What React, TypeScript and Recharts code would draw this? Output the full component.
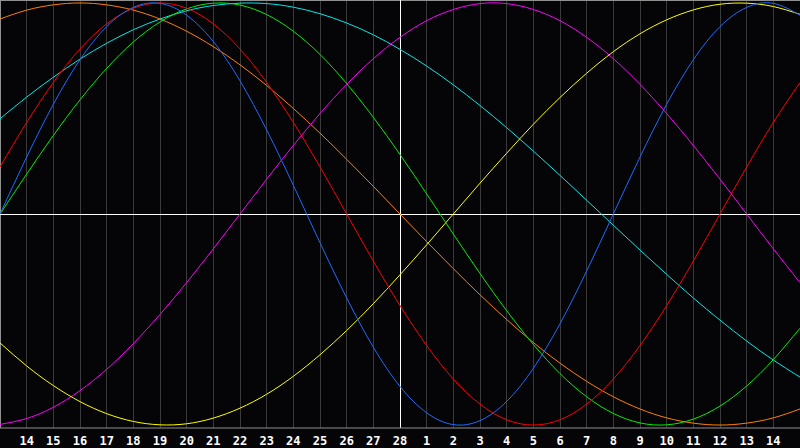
import { LineChart, Line, XAxis, YAxis, CartesianGrid, ReferenceLine } from 'recharts';

// day labels, starting at 13 Feb and ending at 15 Mar
const days = ['13', '14', '15', '16', '17', '18', '19', '20', '21', '22', '23', '24', '25', '26', '27', '28',
  '1', '2', '3', '4', '5', '6', '7', '8', '9', '10', '11', '12', '13', '14', '15'];

const blue = [0, 0.27, 0.52, 0.731, 0.888, 0.979, 0.998, 0.942, 0.817, 0.631, 0.398, 0.136, -0.136, -0.398, -0.631, -0.817,
  -0.942, -0.998, -0.979, -0.888, -0.731, -0.52, -0.27, 0, 0.27, 0.52, 0.731, 0.888, 0.979, 0.998, 0.942];
const red = [0.223, 0.434, 0.623, 0.782, 0.901, 0.975, 1, 0.975, 0.901, 0.782, 0.623, 0.434, 0.223, 0, -0.223, -0.434,
  -0.623, -0.782, -0.901, -0.975, -1, -0.975, -0.901, -0.782, -0.623, -0.434, -0.223, 0, 0.223, 0.434, 0.623];
const green = [0, 0.189, 0.372, 0.541, 0.69, 0.815, 0.91, 0.972, 0.999, 0.99, 0.945, 0.866, 0.756, 0.618, 0.458, 0.282,
  0.095, -0.095, -0.282, -0.458, -0.618, -0.756, -0.866, -0.945, -0.99, -0.999, -0.972, -0.91, -0.815, -0.69, -0.541];
const orange = [0.924, 0.966, 0.991, 1, 0.991, 0.966, 0.924, 0.866, 0.793, 0.707, 0.609, 0.5, 0.383, 0.259, 0.131, 0,
  -0.131, -0.259, -0.383, -0.5, -0.609, -0.707, -0.793, -0.866, -0.924, -0.966, -0.991, -1, -0.991, -0.966, -0.924];
const magenta = [-0.997, -0.969, -0.916, -0.837, -0.736, -0.614, -0.476, -0.325, -0.165, 0, 0.165, 0.325, 0.476, 0.614, 0.736, 0.837,
  0.916, 0.969, 0.997, 0.997, 0.969, 0.916, 0.837, 0.736, 0.614, 0.476, 0.325, 0.165, 0, -0.165, -0.325];
const yellow = [-0.611, -0.72, -0.813, -0.889, -0.946, -0.983, -0.999, -0.994, -0.967, -0.92, -0.854, -0.769, -0.667, -0.552, -0.425, -0.288,
  -0.146, 0, 0.146, 0.288, 0.425, 0.552, 0.667, 0.769, 0.854, 0.92, 0.967, 0.994, 0.999, 0.983, 0.946];
const cyan = [0.451, 0.554, 0.648, 0.734, 0.809, 0.873, 0.924, 0.963, 0.988, 0.999, 0.997, 0.98, 0.949, 0.905, 0.849, 0.78,
  0.701, 0.612, 0.514, 0.409, 0.298, 0.183, 0.065, -0.053, -0.171, -0.286, -0.398, -0.503, -0.602, -0.692, -0.773];

const tickIdx = days.map((_, i) => i).filter((i) => i > 0 && i < days.length - 1);

const data = days.map((d, i) => ({
  t: i,
  day: d,
  blue: blue[i],
  red: red[i],
  green: green[i],
  orange: orange[i],
  magenta: magenta[i],
  yellow: yellow[i],
  cyan: cyan[i],
}));

const series = [
  { key: 'cyan', color: '#00e8e8' },
  { key: 'orange', color: '#ff8000' },
  { key: 'magenta', color: '#ff00ff' },
  { key: 'yellow', color: '#ffff00' },
  { key: 'green', color: '#00f000' },
  { key: 'red', color: '#ff0000' },
  { key: 'blue', color: '#1a6cff' },
];

const LIM = 1.014;

export default function App() {
  return (
    <div style={{ position: 'absolute', left: 0, top: 0, width: 800, height: 448, background: '#050508' }}>
      <LineChart width={800} height={448} data={data} margin={{ top: 0, right: 0, bottom: 0, left: 0 }}>
        <CartesianGrid horizontal={false} stroke="#3a3a3a" shapeRendering="crispEdges" />
        <XAxis
          dataKey="t"
          type="number"
          domain={[0, 30]}
          ticks={tickIdx}
          tickFormatter={(v: number) => days[v]}
          height={20}
          interval={0}
          tickLine={false}
          axisLine={{ stroke: '#909090' }}
          tick={{ fill: '#ffffff', fontSize: 12, fontWeight: 'bold', fontFamily: 'DejaVu Sans Mono' }}
        />
        <YAxis hide domain={[-LIM, LIM]} />
        <ReferenceLine x={0} stroke="#909090" shapeRendering="crispEdges" />
        <ReferenceLine x={30} stroke="#909090" shapeRendering="crispEdges" />
        <ReferenceLine y={LIM} stroke="#909090" shapeRendering="crispEdges" />
        <ReferenceLine y={0} stroke="#ffffff" shapeRendering="crispEdges" />
        <ReferenceLine x={15} stroke="#ffffff" shapeRendering="crispEdges" />
        {series.map((s) => (
          <Line
            key={s.key}
            dataKey={s.key}
            type="natural"
            stroke={s.color}
            strokeWidth={1}
            dot={false}
            activeDot={false}
            isAnimationActive={false}
          />
        ))}
      </LineChart>
    </div>
  );
}
